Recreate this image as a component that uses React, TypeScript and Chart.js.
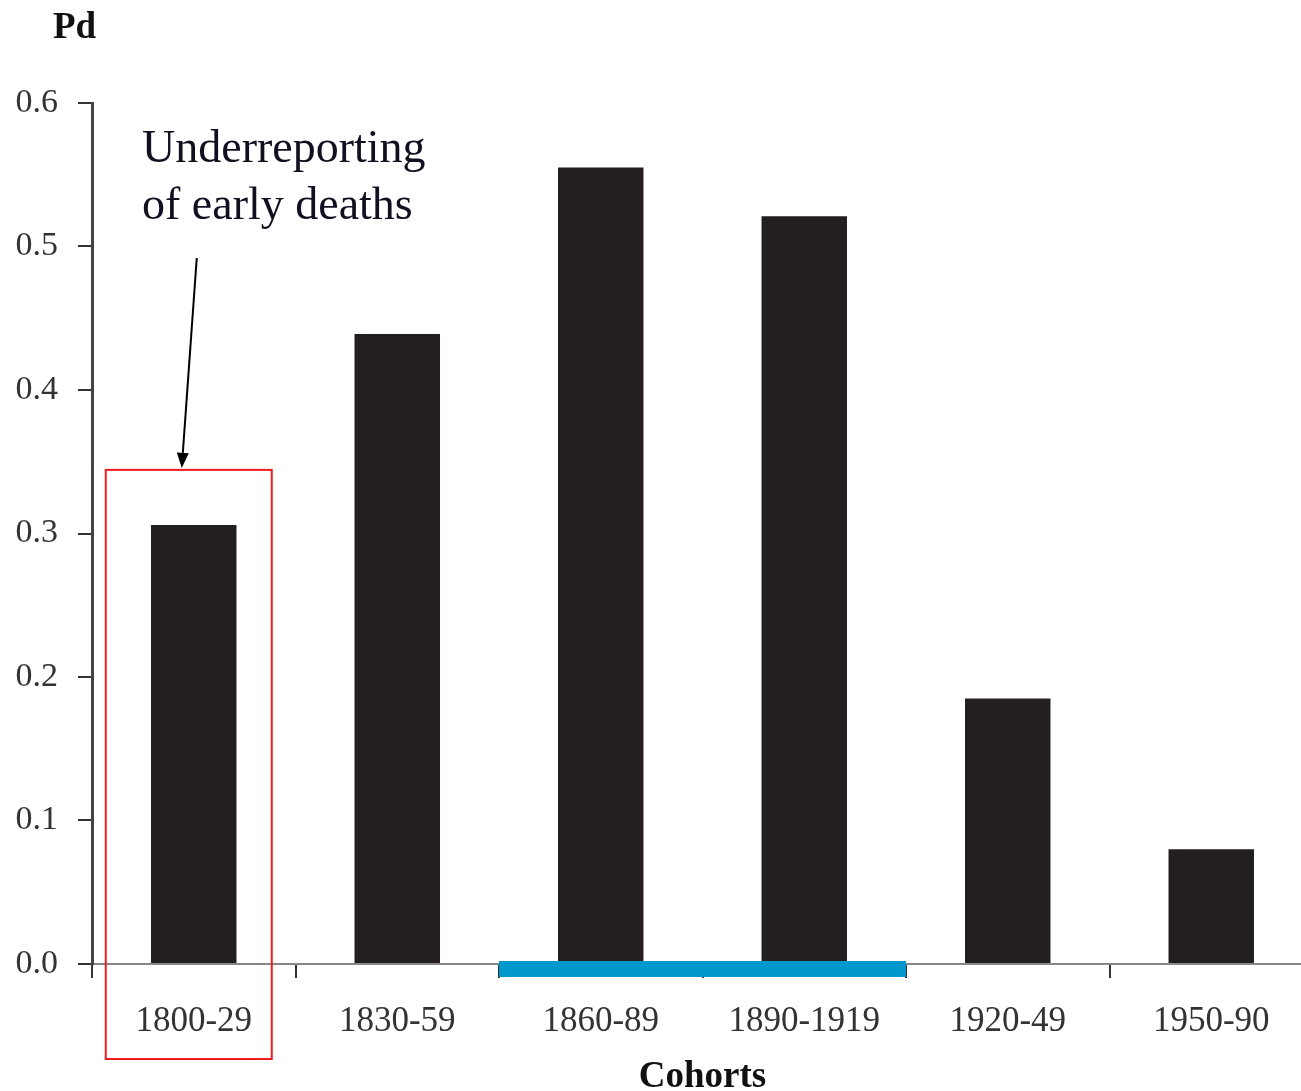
import React, { useEffect, useRef } from 'react';
import { Chart, registerables } from 'chart.js';

Chart.register(...registerables);

// ---- data ----
const cohorts = ['1800-29', '1830-59', '1860-89', '1890-1919', '1920-49', '1950-90'];
const pdValues = [0.306, 0.439, 0.555, 0.521, 0.185, 0.080];
const yTickValues = [0.0, 0.1, 0.2, 0.3, 0.4, 0.5, 0.6];
const highlightedCohorts = ['1860-89', '1890-1919'];
const boxedCohort = '1800-29';
const noteLines = ['Underreporting', 'of early deaths'];
const yTitle = 'Pd';
const xTitle = 'Cohorts';

const CANVAS_W = 1313;
const CANVAS_H = 1091;
const SERIF = '"Liberation Serif", "Times New Roman", serif';

const annotationPlugin = {
  id: 'annotationPlugin',
  afterDraw(chart: any) {
    const { ctx, chartArea } = chart;
    const x = chart.scales.x;
    const y = chart.scales.y;
    const step = x.getPixelForValue(1) - x.getPixelForValue(0);
    ctx.save();

    // blue highlight strip over the axis
    const idx = highlightedCohorts.map((c) => cohorts.indexOf(c));
    const left = x.getPixelForValue(Math.min(...idx)) - step / 2;
    const right = x.getPixelForValue(Math.max(...idx)) + step / 2;
    ctx.fillStyle = '#0098CC';
    ctx.fillRect(left, chartArea.bottom - 3, right - left, 16);

    // red box around the first cohort
    const bi = cohorts.indexOf(boxedCohort);
    const cx = x.getPixelForValue(bi);
    const boxTop = y.getPixelForValue(pdValues[bi]) - 55;
    const boxBottom = chartArea.bottom + 95;
    ctx.strokeStyle = '#EE1C1C';
    ctx.lineWidth = 2;
    ctx.strokeRect(cx - 88, boxTop, 166, boxBottom - boxTop);

    // arrow
    const ax0 = cx + 3;
    const ay0 = 258;
    const ax1 = cx - 12;
    const ay1 = boxTop - 2;
    const ang = Math.atan2(ay1 - ay0, ax1 - ax0);
    const headLen = 15;
    const headW = 6;
    const bx = ax1 - headLen * Math.cos(ang);
    const by = ay1 - headLen * Math.sin(ang);
    ctx.strokeStyle = '#000';
    ctx.lineWidth = 2;
    ctx.beginPath();
    ctx.moveTo(ax0, ay0);
    ctx.lineTo(bx, by);
    ctx.stroke();
    ctx.fillStyle = '#000';
    ctx.beginPath();
    ctx.moveTo(ax1, ay1);
    ctx.lineTo(bx + headW * Math.sin(ang), by - headW * Math.cos(ang));
    ctx.lineTo(bx - headW * Math.sin(ang), by + headW * Math.cos(ang));
    ctx.closePath();
    ctx.fill();

    // annotation text
    ctx.font = `46px ${SERIF}`;
    ctx.fillStyle = '#101020';
    ctx.textAlign = 'left';
    ctx.textBaseline = 'alphabetic';
    ctx.fillText(noteLines[0], 142, 162);
    ctx.fillText(noteLines[1], 142, 219);

    // axis titles
    ctx.font = `bold 37px ${SERIF}`;
    ctx.fillStyle = '#111';
    ctx.fillText(yTitle, 53, 38);
    ctx.textAlign = 'center';
    ctx.fillText(xTitle, (chartArea.left + chartArea.right) / 2, 1087);

    ctx.restore();
  },
};

export default function App() {
  const canvasRef = useRef<HTMLCanvasElement | null>(null);

  useEffect(() => {
    if (!canvasRef.current) return;
    const chart = new Chart(canvasRef.current, {
      type: 'bar',
      data: {
        labels: cohorts,
        datasets: [
          {
            data: pdValues,
            backgroundColor: '#231F20',
            borderWidth: 0,
            barPercentage: 1,
            categoryPercentage: 0.42,
          },
        ],
      },
      options: {
        responsive: false,
        animation: false,
        devicePixelRatio: 1,
        layout: { padding: { top: 103, left: 0, right: 0, bottom: 0 } },
        plugins: {
          legend: { display: false },
          tooltip: { enabled: false },
        },
        scales: {
          x: {
            type: 'category',
            afterFit(scale: any) {
              scale.height = 127;
            },
            grid: {
              drawOnChartArea: false,
              drawTicks: true,
              tickLength: 14,
              color: '#333',
              lineWidth: 2,
              offset: true,
            },
            border: { display: true, color: '#888', width: 2 },
            ticks: {
              autoSkip: false,
              maxRotation: 0,
              minRotation: 0,
              padding: 23,
              color: '#333',
              font: { family: SERIF, size: 35 },
            },
          },
          y: {
            min: 0,
            max: 0.6,
            afterFit(scale: any) {
              scale.width = 92;
            },
            afterBuildTicks(scale: any) {
              scale.ticks = yTickValues.map((v) => ({ value: v }));
            },
            grid: {
              drawOnChartArea: false,
              drawTicks: true,
              tickLength: 14,
              color: '#333',
              lineWidth: 2,
            },
            border: { display: true, color: '#444', width: 3 },
            ticks: {
              padding: 20,
              color: '#333',
              font: { family: SERIF, size: 34 },
              callback: (v: any) => Number(v).toFixed(1),
            },
          },
        },
      },
      plugins: [annotationPlugin],
    });
    return () => chart.destroy();
  }, []);

  return (
    <div
      style={{
        position: 'fixed',
        left: 0,
        top: 0,
        width: 1301,
        height: 1091,
        overflow: 'hidden',
        background: '#fff',
      }}
    >
      <canvas
        ref={canvasRef}
        width={CANVAS_W}
        height={CANVAS_H}
        style={{ display: 'block', width: CANVAS_W, height: CANVAS_H }}
      />
    </div>
  );
}
